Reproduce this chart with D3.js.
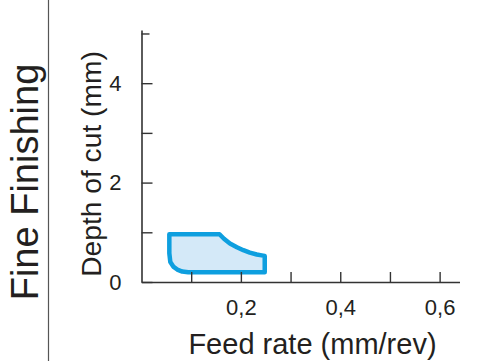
<!DOCTYPE html>
<html><head><meta charset="utf-8">
<script src="https://cdn.jsdelivr.net/npm/d3@7"></script>
<style>html,body{margin:0;padding:0;background:#fff;}svg{display:block;font-family:"Liberation Sans",Arial,sans-serif;}
.tick text{font-size:22px !important;font-family:"Liberation Sans",Arial,sans-serif !important;}</style>
</head><body><div id="chart"></div>
<script>
// Data
const sectionTitle = "Fine Finishing";
const xTitle = "Feed rate (mm/rev)";
const yTitle = "Depth of cut (mm)";
const xTicks = [0.1, 0.2, 0.3, 0.4, 0.5, 0.6];
const xTickLabels = ["", "0,2", "", "0,4", "", "0,6"];
const yTicks = [0, 1, 2, 3, 4, 5];
const yTickLabels = ["0", "", "2", "", "4", ""];
// Boundary of the recommended region: feed (mm/rev), depth (mm)
const regionFeed  = [0.056, 0.157, 0.166, 0.178, 0.192, 0.205, 0.218, 0.232, 0.242, 0.248, 0.248, 0.094, 0.082, 0.072, 0.064, 0.058, 0.056];
const regionDepth = [0.96,  0.96,  0.87,  0.775, 0.70,  0.64,  0.59,  0.553, 0.535, 0.523, 0.197, 0.197, 0.21,  0.25,  0.31,  0.40,  0.58];

const W = 481, H = 361;
const svg = d3.select("#chart").append("svg").attr("width", W).attr("height", H);

const x = d3.scaleLinear().domain([0, 0.64]).range([141.5, 459.5]);
const y = d3.scaleLinear().domain([0, 5.07]).range([282, 30]);

// divider line
svg.append("line").attr("x1", 48.5).attr("x2", 48.5).attr("y1", 0).attr("y2", H)
  .attr("stroke", "#555").attr("stroke-width", 1.2);

// section title
svg.append("text").attr("transform", "translate(38," + 182 + ") rotate(-90)")
  .attr("text-anchor", "middle").style("font-size", "38px").attr("fill", "#231f20").text(sectionTitle);

// region
const pts = regionFeed.map((f, i) => [x(f), y(regionDepth[i])]);
svg.append("path").attr("d", d3.line().curve(d3.curveLinearClosed)(pts))
  .attr("fill", "#d4e9f8").attr("stroke", "#0e9fdf").attr("stroke-width", 4.5)
  .attr("stroke-linejoin", "round");

// axes
const xAxis = d3.axisBottom(x).tickValues(xTicks).tickSizeInner(-10).tickSizeOuter(0)
  .tickPadding(17).tickFormat((d, i) => xTickLabels[i]);
const gx = svg.append("g").attr("transform", "translate(0,282)").call(xAxis);
const yAxis = d3.axisLeft(y).tickValues(yTicks).tickSizeInner(-11).tickSizeOuter(0)
  .tickPadding(20).tickFormat((d, i) => yTickLabels[i]);
const gy = svg.append("g").attr("transform", "translate(141.5,0)").call(yAxis);
[gx, gy].forEach(g => {
  g.attr("font-size", 22).attr("font-family", "Liberation Sans, Arial, sans-serif");
  g.select(".domain").attr("stroke", "#333").attr("stroke-width", 1.6);
  g.selectAll(".tick line").attr("stroke", "#333").attr("stroke-width", 1.4);
  g.selectAll(".tick text").attr("font-size", 22).attr("fill", "#231f20");
});
gx.selectAll(".tick text").attr("dy", "0.71em");
gy.selectAll(".tick").filter(d => d === 5).select("line").attr("x2", 8);

// axis titles
svg.append("text").attr("x", 312.5).attr("y", 354).attr("text-anchor", "middle")
  .style("font-size", "29px").attr("fill", "#231f20").text(xTitle);
svg.append("text").attr("transform", "translate(101,164) rotate(-90)")
  .attr("text-anchor", "middle").style("font-size", "28.2px").attr("fill", "#231f20").text(yTitle);
</script></body></html>
